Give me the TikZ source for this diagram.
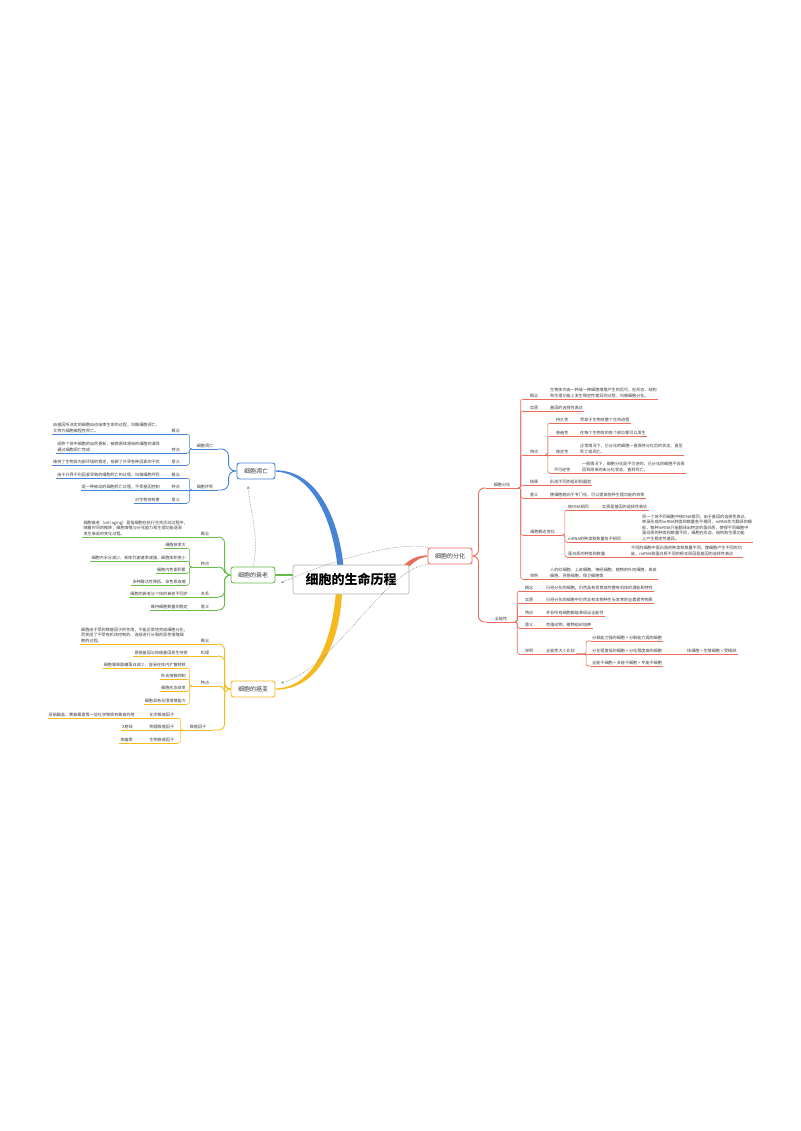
\documentclass[tikz,border=0pt]{standalone}
\usepackage{fontspec}
\setmainfont{Noto Sans CJK SC}
\usetikzlibrary{arrows.meta,backgrounds}
\definecolor{cblue}{RGB}{72,132,214}
\definecolor{cgreen}{RGB}{104,188,72}
\definecolor{corange}{RGB}{246,186,30}
\definecolor{cred}{RGB}{234,108,92}
\definecolor{ctext}{RGB}{60,60,60}
\tikzstyle{mainbox}=[draw=black!30,line width=0.6pt,rounded corners=2pt,fill=white,minimum width=116pt,minimum height=29pt,font=\fontsize{13}{13}\selectfont\bfseries]
\tikzstyle{topicbox}=[draw,line width=0.9pt,rounded corners=2.5pt,fill=white,minimum width=44pt,minimum height=16pt,inner sep=1pt,text=ctext,font=\fontsize{6}{7}\selectfont]
\tikzstyle{lbl}=[inner sep=1pt,minimum width=22pt,text=ctext,font=\fontsize{4.1}{5.6}\selectfont]
\tikzstyle{llbl}=[lbl,anchor=south east]
\tikzstyle{rlbl}=[lbl,anchor=south west]
\tikzstyle{brch}=[lbl,anchor=south,minimum width=26pt]
\tikzstyle{lleaf}=[inner sep=1pt,align=left,text=ctext,font=\fontsize{4.1}{5.6}\selectfont,anchor=south east]
\tikzstyle{rleaf}=[lleaf,anchor=south west]
\tikzstyle{wline}=[cblue,line width=0.6pt,rounded corners=1.5pt]
\tikzstyle{sline}=[cgreen,line width=0.6pt,rounded corners=1.5pt]
\tikzstyle{aline}=[corange,line width=0.6pt,rounded corners=1.5pt]
\tikzstyle{fline}=[cred,line width=0.6pt,rounded corners=1.5pt]
\tikzstyle{relto}=[draw=black!45,densely dotted,line width=0.6pt,-{Stealth[length=3pt,width=2.6pt]}]

\begin{document}
\begin{tikzpicture}[x=1pt,y=-1pt]
\useasboundingbox (0,0) rectangle (800,1131);
\node[mainbox] (R) at (351,579.5) {细胞的生命历程};

% 细胞凋亡
\node[topicbox,draw=cblue,minimum width=38pt] (W) at (256,471) {细胞凋亡};
\node[brch] (W1) at (205,449) {细胞凋亡};
\node[brch] (W2) at (205,490) {细胞坏死};
\node[llbl] (W11) at (187,434) {概念};
\node[lleaf] (tW11) at (161,434) {由基因所决定的细胞自动结束生命的过程，叫做细胞凋亡，\\又称为细胞编程性死亡。};
\node[llbl] (W12) at (187,453) {特点};
\node[lleaf] (tW12) at (161,453) {成熟个体中细胞的自然更新、被病原体感染的细胞的清除\\通过细胞凋亡完成};
\node[llbl] (W13) at (187,465) {意义};
\node[lleaf] (tW13) at (161,465) {维持了生物体内部环境的稳定，抵御了外界各种因素的干扰};
\node[llbl] (W21) at (187,478) {概念};
\node[lleaf] (tW21) at (161,478) {由于外界不利因素导致的细胞死亡的过程，叫做细胞坏死};
\node[llbl] (W22) at (187,490) {特点};
\node[lleaf] (tW22) at (161,490) {是一种被动的细胞死亡过程，不受基因控制};
\node[llbl] (W23) at (187,503) {意义};
\node[lleaf] (tW23) at (161,503) {对生物体有害};
\draw[wline,line width=0.9pt,rounded corners=7pt](W.west)--++(-8,0)|-(W1.south east);\draw[wline,line width=0.9pt,rounded corners=7pt](W.west)--++(-8,0)|-(W2.south east);
\draw[wline,line width=0.9pt](W1.south west)--(W1.south east);\draw[wline,line width=0.9pt](W2.south west)--(W2.south east);
\draw[wline](W1.south west)--++(-2.5,0)|-(W11.south east);\draw[wline](W1.south west)--++(-2.5,0)|-(W12.south east);\draw[wline](W1.south west)--++(-2.5,0)|-(W13.south east);
\draw[wline](W2.south west)--++(-2.5,0)|-(W21.south east);\draw[wline](W2.south west)--(W22.south east);\draw[wline](W2.south west)--++(-2.5,0)|-(W23.south east);
\draw[wline](tW11.south west)--(W11.south east);\draw[wline](tW12.south west)--(W12.south east);\draw[wline](tW13.south west)--(W13.south east);
\draw[wline](tW21.south west)--(W21.south east);\draw[wline](tW22.south west)--(W22.south east);\draw[wline](tW23.south west)--(W23.south east);

% 细胞的衰老
\node[topicbox,draw=cgreen] (S) at (253,575) {细胞的衰老};
\node[brch] (S1) at (205,537) {概念};
\node[lleaf] (tS1) at (189,537) {细胞衰老（cell aging）是指细胞在执行生命活动过程中，\\随着时间的推移，细胞增殖与分化能力和生理功能逐渐\\发生衰退的变化过程。};
\node[brch] (S2) at (205,567) {特点};
\node[lleaf] (tS21) at (187,548) {细胞核变大};
\node[lleaf] (tS22) at (187,561) {细胞内水分减少，新陈代谢速率减慢，细胞体积变小};
\node[lleaf] (tS23) at (187,573) {细胞内色素积累};
\node[lleaf] (tS24) at (187,585) {多种酶活性降低，染色质收缩};
\node[brch] (S3) at (205,597) {关系};
\node[lleaf] (tS3) at (189,597) {细胞的衰老与个体的衰老不同步};
\node[brch] (S4) at (205,610) {意义};
\node[lleaf] (tS4) at (189,610) {维持细胞数量的稳定};
\draw[sline,line width=0.9pt,rounded corners=6pt](S.west)--++(-6,0)|-(S1.south east);\draw[sline,line width=0.9pt,rounded corners=6pt](S.west)--++(-6,0)|-(S2.south east);
\draw[sline,line width=0.9pt,rounded corners=6pt](S.west)--++(-6,0)|-(S3.south east);\draw[sline,line width=0.9pt,rounded corners=6pt](S.west)--++(-6,0)|-(S4.south east);
\draw[sline](tS1.south west)--(S1.south east);\draw[sline](tS3.south west)--(S3.south east);\draw[sline](tS4.south west)--(S4.south east);
\draw[sline](S2.south west)--(S2.south east);
\draw[sline](S2.south west)--++(-2.5,0)|-(tS21.south east);\draw[sline](S2.south west)--++(-2.5,0)|-(tS22.south east);
\draw[sline](S2.south west)--++(-2.5,0)|-(tS23.south east);\draw[sline](S2.south west)--++(-2.5,0)|-(tS24.south east);
\draw[sline](tS21.south west)--(tS21.south east);\draw[sline](tS22.south west)--(tS22.south east);
\draw[sline](tS23.south west)--(tS23.south east);\draw[sline](tS24.south west)--(tS24.south east);

% 细胞的癌变
\node[topicbox,draw=corange] (A) at (253,689) {细胞的癌变};
\node[brch] (A1) at (205,644) {概念};
\node[lleaf] (tA1) at (189,644) {细胞由于受到致癌因子的作用，不能正常地完成细胞分化，\\而变成了不受有机体控制的、连续进行分裂的恶性增殖细\\胞的过程。};
\node[brch] (A2) at (205,656) {机理};
\node[lleaf] (tA2) at (189,656) {原癌基因与抑癌基因发生突变};
\node[brch] (A3) at (205,686) {特点};
\node[lleaf] (tA31) at (187,668) {细胞膜表面糖蛋白减少，容易在体内扩散转移};
\node[lleaf] (tA32) at (187,679) {失去接触抑制};
\node[lleaf] (tA33) at (187,691) {细胞形态改变};
\node[lleaf] (tA34) at (187,704) {细胞具有无限增殖能力};
\node[brch,minimum width=30pt] (A4) at (198,730) {致癌因子};
\node[llbl,minimum width=32pt] (A41) at (178,718) {化学致癌因子};
\node[lleaf] (tA41) at (136,718) {亚硝酸盐、黄曲霉素等一些化学物质有致癌作用};
\node[llbl,minimum width=32pt] (A42) at (178,730) {物理致癌因子};
\node[lleaf] (tA42) at (134,730) {X射线};
\node[llbl,minimum width=32pt] (A43) at (178,743) {生物致癌因子};
\node[lleaf] (tA43) at (134,743) {病毒等};
\draw[aline,line width=0.9pt,rounded corners=6pt](A.west)--++(-6,0)|-(A1.south east);\draw[aline,line width=0.9pt,rounded corners=6pt](A.west)--++(-6,0)|-(A2.south east);
\draw[aline,line width=0.9pt,rounded corners=6pt](A.west)--++(-6,0)|-(A3.south east);\draw[aline,line width=0.9pt,rounded corners=6pt](A.west)--++(-6,0)|-(A4.south east);
\draw[aline](tA1.south west)--(A1.south east);\draw[aline](tA2.south west)--(A2.south east);
\draw[aline](A3.south west)--(A3.south east);\draw[aline](A4.south west)--(A4.south east);
\draw[aline](A3.south west)--++(-2.5,0)|-(tA31.south east);\draw[aline](A3.south west)--++(-2.5,0)|-(tA32.south east);
\draw[aline](A3.south west)--++(-2.5,0)|-(tA33.south east);\draw[aline](A3.south west)--++(-2.5,0)|-(tA34.south east);
\draw[aline](tA31.south west)--(tA31.south east);\draw[aline](tA32.south west)--(tA32.south east);
\draw[aline](tA33.south west)--(tA33.south east);\draw[aline](tA34.south west)--(tA34.south east);
\draw[aline](A4.south west)--++(-2.5,0)|-(A41.south east);\draw[aline](A4.south west)--(A42.south east);\draw[aline](A4.south west)--++(-2.5,0)|-(A43.south east);
\draw[aline](tA41.south west)--(A41.south east);\draw[aline](tA42.south west)--(A42.south east);\draw[aline](tA43.south west)--(A43.south east);

% 细胞的分化
\node[topicbox,draw=cred] (F) at (450,556) {细胞的分化};
\node[brch,minimum width=32pt] (F1) at (502,488) {细胞分化};
\node[brch,minimum width=28pt] (F2) at (501,622) {全能性};
\node[rlbl] (F11) at (523,399) {概念};
\node[rleaf] (tF11) at (549,399) {生物体内由一种或一种细胞增殖产生的后代，在形态、结构\\和生理功能上发生稳定性差异的过程，叫做细胞分化。};
\node[rlbl] (F12) at (523,411) {实质};
\node[rleaf] (tF12) at (549,411) {基因的选择性表达};
\node[rlbl] (F13) at (523,455) {特点};
\node[rlbl,minimum width=24pt] (F131) at (550,423) {持久性};
\node[rleaf] (tF131) at (579,423) {贯穿于生物体整个生命进程};
\node[rlbl,minimum width=24pt] (F132) at (550,436) {普遍性};
\node[rleaf] (tF132) at (579,436) {在每个生物体的各个部位都可以发生};
\node[rlbl,minimum width=24pt] (F133) at (550,455) {稳定性};
\node[rleaf] (tF133) at (579,455) {正常情况下，已分化的细胞一直保持分化后的状态，直至\\死亡或凋亡。};
\node[rlbl,minimum width=24pt] (F134) at (550,473) {不可逆性};
\node[rleaf] (tF134) at (581,473) {一般情况下，细胞分化是不可逆的，已分化的细胞不会再\\回到原来的未分化状态，直到死亡。};
\node[rlbl] (F14) at (523,485) {结果};
\node[rleaf] (tF14) at (549,485) {形成不同的组织和器官};
\node[rlbl] (F15) at (523,498) {意义};
\node[rleaf] (tF15) at (549,498) {使细胞趋向于专门化，可以提高各种生理功能的效率};
\node[rlbl,minimum width=39pt] (F16) at (523,535) {细胞稳态变化};
\node[rlbl] (F161) at (567,510) {核DNA相同};
\node[rleaf] (tF161) at (601,510) {实质是基因的选择性表达};
\node[rlbl] (F162) at (567,542) {mRNA的种类和数量各不相同};
\node[rleaf] (tF162) at (641,542) {同一个体不同细胞中核DNA相同，由于基因的选择性表达，\\转录形成的mRNA种类和数量各不相同，mRNA作为翻译的模\\板，每种mRNA只能翻译出特定的蛋白质，使得不同细胞中\\蛋白质的种类和数量不同，细胞在形态、结构和生理功能\\上产生稳定性差异。};
\node[rlbl] (F163) at (567,557) {蛋白质的种类和数量};
\node[rleaf] (tF163) at (630,557) {不同的细胞中蛋白质的种类和数量不同，使细胞产生不同的功\\能，mRNA和蛋白质不同的根本原因是基因的选择性表达};
\node[rlbl] (F17) at (523,579) {举例};
\node[rleaf] (tF17) at (549,579) {人的红细胞、上皮细胞、神经细胞，植物的叶肉细胞、表皮\\细胞、导管细胞、保卫细胞等};
\node[rlbl,minimum width=20pt] (F21) at (519,591) {概念};
\node[rleaf] (tF21) at (545,591) {已经分化的细胞，仍然具有发育成完整有机体的潜能和特性};
\node[rlbl,minimum width=20pt] (F22) at (519,603) {实质};
\node[rleaf] (tF22) at (545,603) {已经分化的细胞中仍然含有本物种生长发育的全套遗传物质};
\node[rlbl,minimum width=20pt] (F23) at (519,616) {特点};
\node[rleaf] (tF23) at (545,616) {并非所有细胞都能表现出全能性};
\node[rlbl,minimum width=20pt] (F24) at (519,628) {意义};
\node[rleaf] (tF24) at (545,628) {克隆动物、植物组织培养};
\node[rlbl,minimum width=20pt] (F25) at (519,654) {举例};
\node[rleaf] (tF25) at (545,654) {全能性大小比较};
\node[rleaf] (tF251) at (591,641) {分裂能力强的细胞 > 分裂能力弱的细胞};
\node[rleaf] (tF252) at (591,654) {分化程度低的细胞 > 分化程度高的细胞};
\node[rleaf] (tF253) at (591,666) {全能干细胞 > 多能干细胞 > 专能干细胞};
\node[rleaf] (tF2521) at (686,654) {体细胞 < 生殖细胞 < 受精卵};
\draw[fline,line width=0.9pt,rounded corners=6pt](F.east)--++(6,0)|-(F1.south west);\draw[fline,line width=0.9pt,rounded corners=6pt](F.east)--++(6,0)|-(F2.south west);
\draw[fline,line width=0.9pt](F1.south west)--(F1.south east);\draw[fline,line width=0.9pt](F2.south west)--(F2.south east);
\draw[fline](F1.south east)--++(2.5,0)|-(F11.south west);\draw[fline](F1.south east)--++(2.5,0)|-(F12.south west);\draw[fline](F1.south east)--++(2.5,0)|-(F13.south west);
\draw[fline](F1.south east)--++(2.5,0)|-(F14.south west);\draw[fline](F1.south east)--++(2.5,0)|-(F15.south west);\draw[fline](F1.south east)--++(2.5,0)|-(F16.south west);
\draw[fline](F1.south east)--++(2.5,0)|-(F17.south west);
\draw[fline](F11.south west)--(tF11.south east);\draw[fline](F12.south west)--(tF12.south east);\draw[fline](F13.south west)--(F13.south east);
\draw[fline](F14.south west)--(tF14.south east);\draw[fline](F15.south west)--(tF15.south east);\draw[fline](F16.south west)--(F16.south east);
\draw[fline](F17.south west)--(tF17.south east);
\draw[fline](F13.south east)--++(2.5,0)|-(F131.south west);\draw[fline](F13.south east)--++(2.5,0)|-(F132.south west);
\draw[fline](F13.south east)--(F133.south west);\draw[fline](F13.south east)--++(2.5,0)|-(F134.south west);
\draw[fline](F131.south west)--(tF131.south east);\draw[fline](F132.south west)--(tF132.south east);
\draw[fline](F133.south west)--(tF133.south east);\draw[fline](F134.south west)--(tF134.south east);
\draw[fline](F16.south east)--++(2.5,0)|-(F161.south west);\draw[fline](F16.south east)--++(2.5,0)|-(F162.south west);\draw[fline](F16.south east)--++(2.5,0)|-(F163.south west);
\draw[fline](F161.south west)--(tF161.south east);\draw[fline](F162.south west)--(tF162.south east);\draw[fline](F163.south west)--(tF163.south east);
\draw[fline](F2.south east)--++(2,0)|-(F21.south west);\draw[fline](F2.south east)--++(2,0)|-(F22.south west);\draw[fline](F2.south east)--++(2,0)|-(F23.south west);
\draw[fline](F2.south east)--++(2,0)|-(F24.south west);\draw[fline](F2.south east)--++(2,0)|-(F25.south west);
\draw[fline](F21.south west)--(tF21.south east);\draw[fline](F22.south west)--(tF22.south east);\draw[fline](F23.south west)--(tF23.south east);
\draw[fline](F24.south west)--(tF24.south east);\draw[fline](F25.south west)--(tF25.south east);
\draw[fline](tF25.south east)--++(10,0)|-(tF251.south west);\draw[fline](tF25.south east)--(tF252.south west);\draw[fline](tF25.south east)--++(10,0)|-(tF253.south west);
\draw[fline](tF251.south west)--(tF251.south east);\draw[fline](tF252.south west)--(tF2521.south east);\draw[fline](tF253.south west)--(tF253.south east);

% thick main branches
\begin{pgfonlayer}{background}
\fill[white](0,0) rectangle (800,1131);
\fill[cblue](338,572) .. controls (334,522) and (313,473) .. ([yshift=-0.6pt]W.east) -- ([yshift=0.6pt]W.east) .. controls (316,469.5) and (340,518) .. (344,572) -- cycle;
\fill[corange](336,590) .. controls (333,640) and (314,688) .. ([yshift=0.6pt]A.east) -- ([yshift=-0.6pt]A.east) .. controls (318,690.5) and (341,642) .. (342,590) -- cycle;
\fill[cred](400,569) .. controls (409,559) and (417,555.5) .. ([yshift=0.6pt]F.west) -- ([yshift=-0.6pt]F.west) .. controls (419,557.5) and (412,563) .. (406,570) -- cycle;
\draw[cgreen,line width=1.6pt](S.east)--(S.east -| R.center);
\end{pgfonlayer}

% relations
\coordinate (e1) at (281,583);
\coordinate (e2) at (281,683);
\coordinate (e3) at (248,486);
\draw[relto](F.north west) .. controls (395,540) and (320,565) .. (e1);
\draw[relto](F.south west) .. controls (385,568) and (335,668) .. (e2);
\draw[relto](S.north) .. controls (260,540) and (250,510) .. (e3);
\end{tikzpicture}
\end{document}
